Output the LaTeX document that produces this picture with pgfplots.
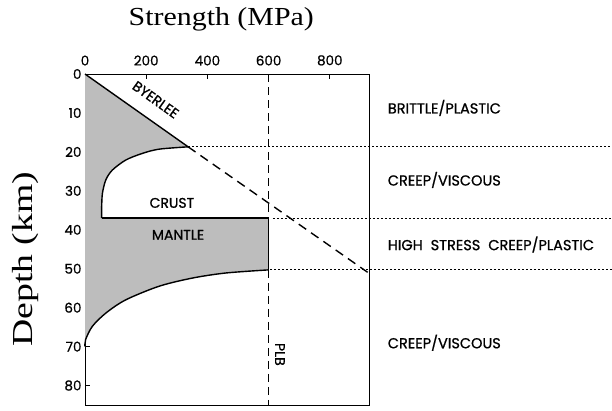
\documentclass[border=0pt]{standalone}
\usepackage{pgfplots}
\pgfplotsset{compat=1.18}
\usepackage{fontspec}
\setmainfont{Liberation Serif}
\newfontfamily\pop[FakeBold=0.8]{Poppins}
\newcommand\wsp{\hspace{0.55em}}
\begin{document}
\begin{tikzpicture}
\begin{axis}[
  scale only axis, width=284pt, height=331pt,
  xmin=0, xmax=928, ymin=0, ymax=85, y dir=reverse,
  clip=false,
  xtick={0,200,400,600,800}, ytick={0,10,...,80},
  xtick pos=right, xticklabel pos=right, ytick pos=left,
  tick align=inside, major tick length=5pt,
  tick style={line width=0.9pt, black},
  axis line style={line width=1pt},
  /pgf/number format/assume math mode=true,
  ticklabel style={font=\pop\fontsize{13.5}{15}\selectfont},
  xticklabel style={yshift=5pt},
  title={\scalebox{1.15}[1]{\fontsize{26}{30}\selectfont Strength (MPa)}},
  title style={at={(0.48,1)}, anchor=base, yshift=43pt},
  ylabel={\scalebox{1.3}[1]{\fontsize{29}{32}\selectfont Depth (km)}},
  ylabel style={at={(axis description cs:-0.21,0.44)}, anchor=center},
]
% shaded strength envelope
\addplot[fill=gray!52, draw=none] coordinates {
  (0,0) (337,18.7) (242,19.3) (187,20.4) (133,22.1) (89,24.7) (68,27.2)
  (57,30.6) (54.5,34.1) (54.5,37) (600,37) (600,50.3)
  (460,51.1) (351,52.4) (242,54.5) (133,58) (68,61.4) (24,64.8) (2,68.2) (0,70)
} -- cycle;
% Byerlee
\addplot[line width=1.4pt] coordinates {(0,0) (337,18.7)};
\addplot[line width=1.4pt, dash pattern=on 9pt off 6pt] coordinates {(337,18.7) (925,51)};
% crust curve
\addplot[line width=1.4pt, smooth] coordinates {
  (337,18.7) (242,19.3) (187,20.4) (133,22.1) (89,24.7) (68,27.2)
  (57,30.6) (54.5,34.1) (54.5,37)};
\addplot[line width=1.4pt] coordinates {(54.5,37) (600,37) (600,50.3)};
% mantle curve
\addplot[line width=1.4pt, smooth] coordinates {
  (600,50.3) (460,51.1) (351,52.4) (242,54.5) (133,58) (68,61.4) (24,64.8) (2,68.2) (0,70)};
% PLB
\addplot[line width=1.1pt, dash pattern=on 8pt off 5pt] coordinates {(600,0) (600,37)};
\addplot[line width=1.1pt, dash pattern=on 8pt off 5pt] coordinates {(600,50.3) (600,85)};
% dotted boundaries
\addplot[line width=0.9pt, dash pattern=on 2pt off 2pt] coordinates {(337,18.5) (1722,18.5)};
\addplot[line width=0.9pt, dash pattern=on 2pt off 2pt] coordinates {(614,37) (1722,37)};
\addplot[line width=0.9pt, dash pattern=on 2pt off 2pt] coordinates {(605,50.3) (1722,50.3)};
% labels
\node[font=\pop\fontsize{14}{15}\selectfont, rotate=-35.6] at (axis cs:231,6.6) {BYERLEE};
\node[font=\pop\fontsize{14}{15}\selectfont] at (axis cs:284,33.1) {CRUST};
\node[font=\pop\fontsize{14}{15}\selectfont] at (axis cs:304,41.3) {MANTLE};
\node[font=\pop\fontsize{14}{15}\selectfont, rotate=-90] at (axis cs:637,72) {PLB};
\node[font=\pop\fontsize{14.5}{15}\selectfont, anchor=west] at (axis cs:978,8.7) {BRITTLE/PLASTIC};
\node[font=\pop\fontsize{14.5}{15}\selectfont, anchor=west] at (axis cs:978,27.2) {CREEP/VISCOUS};
\node[font=\pop\fontsize{14.5}{15}\selectfont, anchor=west] at (axis cs:978,43.8) {HIGH\wsp STRESS\wsp CREEP/PLASTIC};
\node[font=\pop\fontsize{14.5}{15}\selectfont, anchor=west] at (axis cs:978,69) {CREEP/VISCOUS};
\end{axis}
\pgfresetboundingbox
\path[use as bounding box] ([shift={(-85pt,-5pt)}]current axis.south west) rectangle ++(612pt,410pt);
\end{tikzpicture}
\end{document}
